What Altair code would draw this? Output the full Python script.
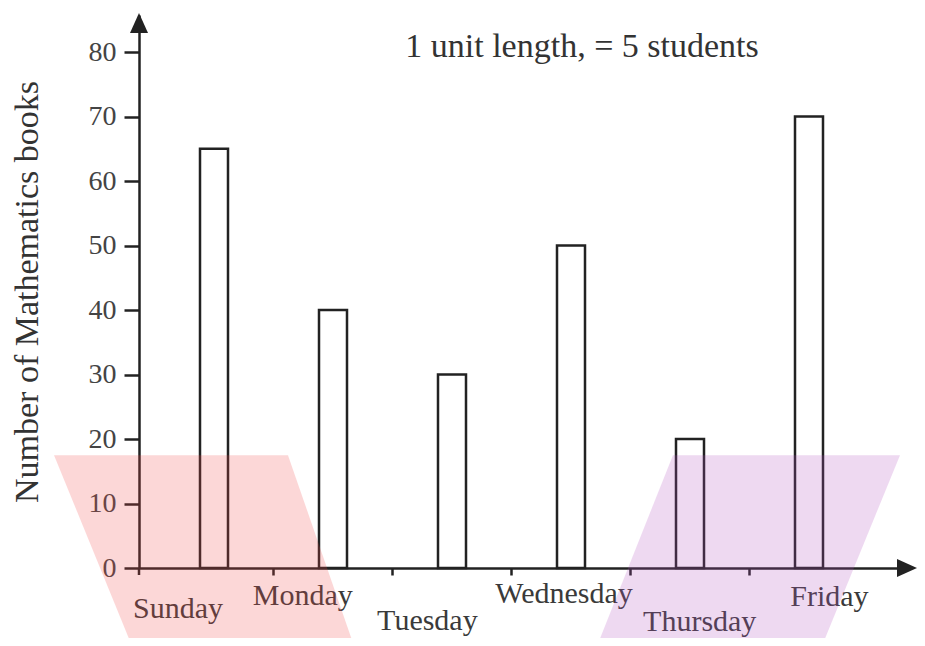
import altair as alt
import pandas as pd

# ---- data ----
days = ["Sunday", "Monday", "Tuesday", "Wednesday", "Thursday", "Friday"]
books = [65, 40, 30, 50, 20, 70]
y_ticks = [0, 10, 20, 30, 40, 50, 60, 70, 80]
title_text = "1 unit length, = 5 students"
y_title = "Number of Mathematics books"

# staggered label offsets (style), px relative to band centre / axis line
label_dx = [1, -2, -5, 4, 12, 14]
label_dy = [50, 37, 62, 35, 63, 38]

# decorative highlight shapes, in "day slot" units (x) and data units (y)
pink_y = [17.5, -12.1]
pink_x = [-0.714, -0.059]
pink_x2 = [1.252, 1.807]
purple_y = [17.5, -12.1]
purple_x = [4.487, 3.849]
purple_x2 = [6.395, 5.739]

W, H = 766, 553
STEP = 119
Y_MAX = 85.74
SERIF = "Liberation Serif"

df = pd.DataFrame({"day": days, "books": books})

yscale = alt.Scale(domain=[0, Y_MAX], nice=False, zero=True)
pad_outer = (W / STEP - 6) / 2
align = 15.5 / (W - 6 * STEP)
xscale = alt.Scale(domain=days, paddingInner=0, paddingOuter=pad_outer, align=align)

bars = alt.Chart(df).mark_bar(
    width=28, fill="white", stroke="#222", strokeWidth=2.5
).encode(
    x=alt.X("day:N", scale=xscale, sort=days, title=None,
            axis=alt.Axis(values=days[1:], bandPosition=0, labels=False, tickSize=7,
                          tickWidth=2.5, tickColor="#222", domainColor="#222",
                          domainWidth=2.5, grid=False)),
    y=alt.Y("books:Q", scale=yscale, title=y_title,
            axis=alt.Axis(values=y_ticks, tickSize=15, tickWidth=2.5, tickColor="#222",
                          domainColor="#222", domainWidth=2.5, grid=False,
                          labelFont=SERIF, labelFontSize=28, labelColor="#444",
                          labelPadding=8, titleFont=SERIF, titleFontSize=34,
                          titleFontWeight="normal", titleColor="#333",
                          titleX=-112, titleY=H / 2, titleAngle=-90,
                          titleAlign="center", titleBaseline="middle")),
)

label_layers = []
for d, dx, dy in zip(days, label_dx, label_dy):
    label_layers.append(
        alt.Chart(df).transform_filter(alt.datum.day == d).mark_text(
            font=SERIF, fontSize=30, color="#3a3a3a", dx=dx, dy=dy,
            baseline="alphabetic", align="center"
        ).encode(
            x=alt.X("day:N", scale=xscale, sort=days, axis=None),
            y=alt.value(H),
            text="day:N",
        )
    )

def shape(ys, xs, x2s, color):
    sdf = pd.DataFrame({"y": ys, "x": xs, "x2": x2s})
    return alt.Chart(sdf).mark_area(orient="horizontal", color=color, opacity=0.22).encode(
        y=alt.Y("y:Q", scale=yscale, axis=None),
        x=alt.X("x:Q", scale=alt.Scale(domain=[0, W / STEP], nice=False, zero=False), axis=None),
        x2="x2:Q",
    )

pink = shape(pink_y, pink_x, pink_x2, "#f04848")
purple = shape(purple_y, purple_x, purple_x2, "#b050c0")

title = alt.Chart(df.head(1)).mark_text(
    font=SERIF, fontSize=34, color="#333", align="center", baseline="alphabetic"
).encode(x=alt.value(443), y=alt.value(42), text=alt.value(title_text))

arrow_up = alt.Chart(df.head(1)).mark_point(
    shape="M0,-1L0.9,1L-0.9,1Z", filled=True, color="#222", opacity=1, size=400
).encode(x=alt.value(0), y=alt.value(8))

arrow_right = alt.Chart(df.head(1)).mark_point(
    shape="M1,0L-1,-0.9L-1,0.9Z", filled=True, color="#222", opacity=1, size=400
).encode(x=alt.value(W + 2), y=alt.value(H))

origin_tick = alt.Chart(df.head(1)).mark_rule(color="#222", strokeWidth=2.5).encode(
    x=alt.value(0), y=alt.value(H), y2=alt.value(H + 7)
)

chart = alt.layer(
    bars, *label_layers, title, arrow_up, arrow_right, origin_tick, pink, purple
).resolve_scale(x="independent").resolve_axis(y="independent").properties(
    width=W, height=H, autosize=alt.AutoSizeParams(type="none"),
    padding={"left": 131, "top": 7, "right": 12, "bottom": 70},
    background="white",
).configure(font=SERIF).configure_axis(
    titleFont=SERIF, labelFont=SERIF
).configure_text(font=SERIF).configure_view(strokeWidth=0, stroke="transparent")

chart.save("out.html", embed_options={"renderer": "svg", "actions": False})
